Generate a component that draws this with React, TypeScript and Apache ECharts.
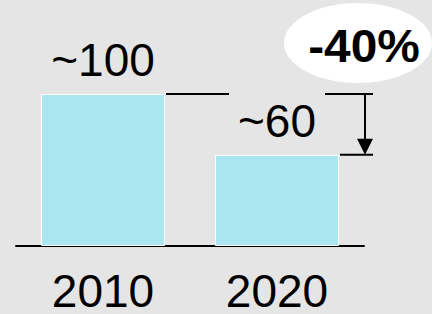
import React, { useEffect, useRef } from "react";
import * as echarts from "echarts";

const categories = ["2010", "2020"];
const values = [100, 60];
const valueLabels = ["~100", "~60"];
const changeLabel = "-40%";

export default function App() {
  const ref = useRef<HTMLDivElement>(null);
  useEffect(() => {
    document.body.style.margin = "0";
    const chart = echarts.init(ref.current!, null, { renderer: "svg" });
    const font = "'Liberation Sans', Arial, sans-serif";
    const barWidth = 124;
    chart.setOption({
      animation: false,
      backgroundColor: "#e5e5e5",
      grid: { left: 16, right: 68, top: 94, bottom: 66, containLabel: false },
      xAxis: {
        type: "category",
        data: categories,
        axisLine: { lineStyle: { color: "#000", width: 2 } },
        axisTick: { show: false },
        axisLabel: { color: "#000", fontSize: 46, lineHeight: 34, fontFamily: font, margin: 28 },
      },
      yAxis: { type: "value", min: 0, max: 100, show: false, splitLine: { show: false } },
      series: [
        {
          type: "bar",
          data: values,
          barWidth,
          itemStyle: { color: "#aae6ef", borderColor: "#ffffff", borderWidth: 1 },
          label: {
            show: true,
            position: "top",
            distance: 11,
            formatter: (p: any) => valueLabels[p.dataIndex],
            fontSize: 46,
            color: "#000",
            fontFamily: font,
          },
        },
      ],
    });

    const xa = chart.convertToPixel({ xAxisIndex: 0 }, categories[0]) as number;
    const xb = chart.convertToPixel({ xAxisIndex: 0 }, categories[1]) as number;
    const yTop = chart.convertToPixel({ yAxisIndex: 0 }, values[0]) as number;
    const yLow = chart.convertToPixel({ yAxisIndex: 0 }, values[1]) as number;
    const ls = { stroke: "#000", lineWidth: 2 };
    const arrowX = xb + 88;
    chart.setOption({
      graphic: [
        { type: "line", shape: { x1: xa + barWidth / 2 + 1, y1: yTop, x2: xb - 48, y2: yTop }, style: ls },
        { type: "line", shape: { x1: xb + 48, y1: yTop, x2: xb + 96, y2: yTop }, style: ls },
        { type: "line", shape: { x1: xb + barWidth / 2 + 1, y1: yLow, x2: xb + 96, y2: yLow }, style: ls },
        { type: "line", shape: { x1: arrowX, y1: yTop, x2: arrowX, y2: yLow - 14 }, style: ls },
        {
          type: "polygon",
          shape: { points: [[arrowX - 8, yLow - 16], [arrowX + 8, yLow - 16], [arrowX, yLow]] },
          style: { fill: "#000" },
        },
        { type: "ellipse", shape: { cx: 358, cy: 43, rx: 74, ry: 40 }, style: { fill: "#ffffff" } },
        {
          type: "text",
          x: 364,
          y: 46,
          scaleX: 1.04,
          style: {
            text: changeLabel,
            x: 0,
            y: 0,
            align: "center",
            verticalAlign: "middle",
            font: `bold 46px ${font}`,
            fill: "#000",
          },
        },
      ],
    });
    return () => chart.dispose();
  }, []);
  return <div ref={ref} style={{ width: 432, height: 314 }} />;
}
